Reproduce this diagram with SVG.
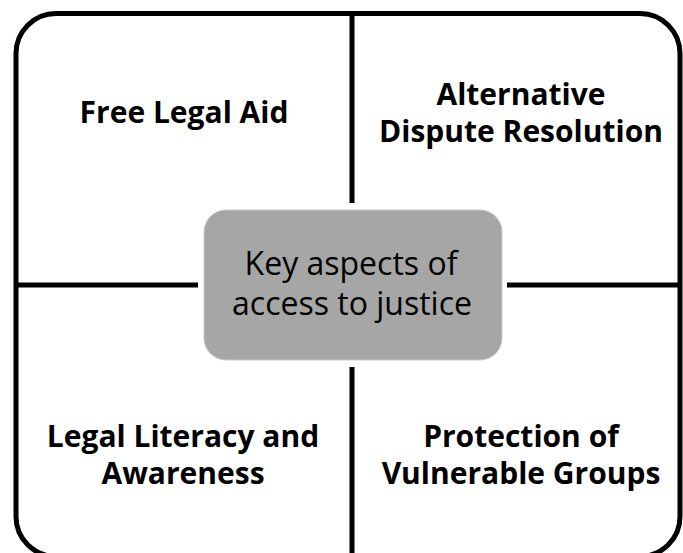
<svg xmlns="http://www.w3.org/2000/svg" width="683" height="553" viewBox="0 0 683 553">
<style>
.frame{fill:none;stroke:#000;stroke-width:5}
.conn{stroke:#000;stroke-width:5;fill:none}
.hub{fill:#a6a6a6;stroke:#c8c8c8;stroke-width:1}
.lbl{font-family:"Open Sans","Liberation Sans",sans-serif;font-weight:bold;font-size:30px;fill:#000;text-anchor:middle;font-variant-ligatures:none}
.hubt{font-family:"Open Sans","Liberation Sans",sans-serif;font-size:32px;fill:#000;text-anchor:middle;font-variant-ligatures:none}
</style>
<rect id="frame" class="frame" x="16" y="13.5" width="664" height="543" rx="40" ry="40"/>
<g id="connectors">
<line class="conn" x1="352" y1="13.5" x2="352" y2="203"/>
<line class="conn" x1="352" y1="367" x2="352" y2="556"/>
<line class="conn" x1="16" y1="285" x2="198" y2="285"/>
<line class="conn" x1="507" y1="285" x2="680" y2="285"/>
</g>
<g id="hub">
<rect class="hub" x="204" y="210" width="298" height="150" rx="22" ry="22"/>
<text class="hubt" x="351" y="275">Key aspects of</text>
<text class="hubt" x="352" y="315">access to justice</text>
</g>
<g id="free-legal-aid">
<text class="lbl" x="184" y="123">Free Legal Aid</text>
</g>
<g id="adr">
<text class="lbl" x="521" y="105">Alternative</text>
<text class="lbl" x="521" y="142">Dispute Resolution</text>
</g>
<g id="legal-literacy">
<text class="lbl" x="183" y="447">Legal Literacy and</text>
<text class="lbl" x="183" y="484">Awareness</text>
</g>
<g id="vulnerable-groups">
<text class="lbl" x="521" y="447">Protection of</text>
<text class="lbl" x="521" y="484">Vulnerable Groups</text>
</g>
</svg>
